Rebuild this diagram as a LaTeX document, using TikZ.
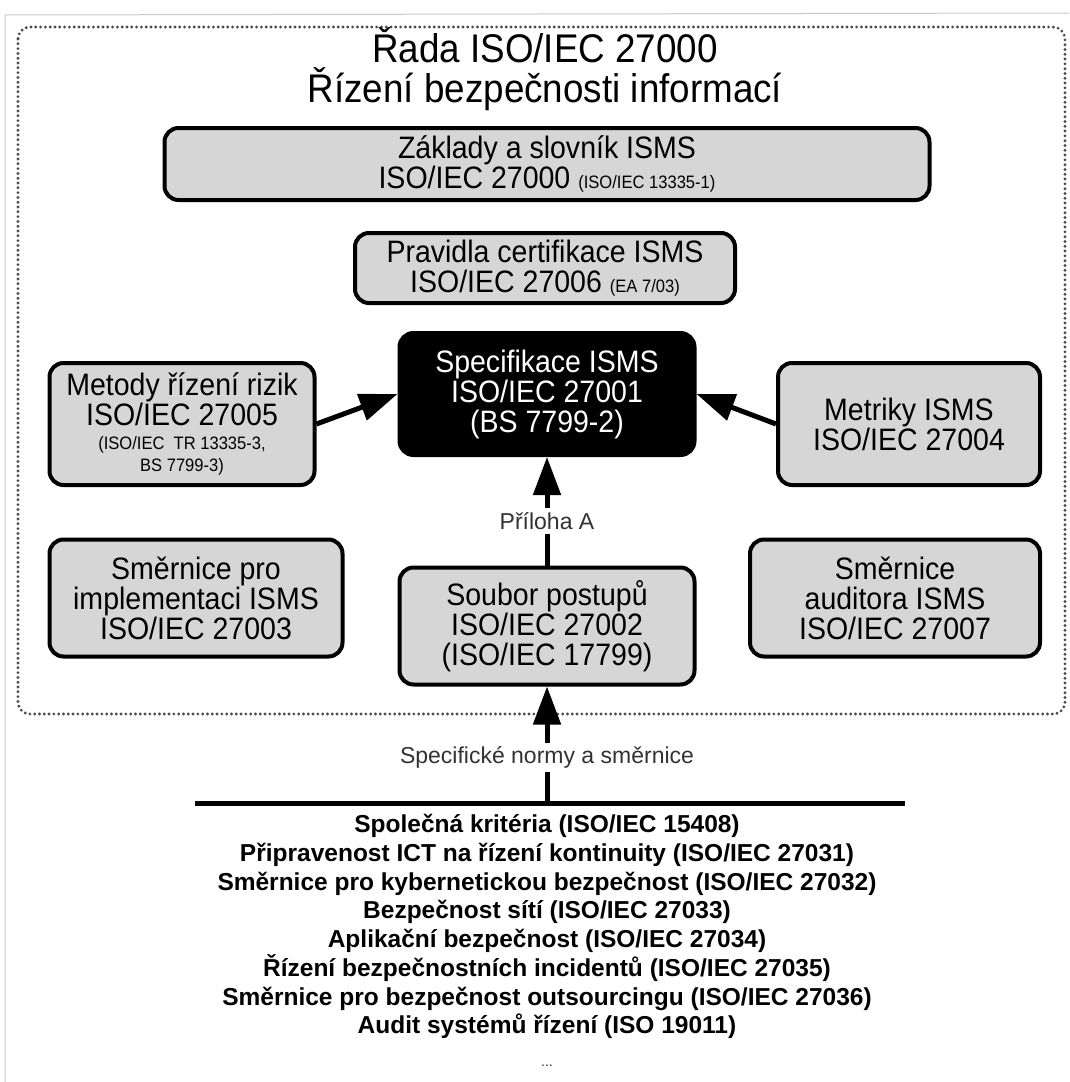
\documentclass[tikz,border=0pt]{standalone}
\usepackage{fontspec}
\setmainfont{Liberation Sans}
\newfontfamily\narrowfont[FakeStretch=0.92]{Liberation Sans}
\definecolor{boxgray}{RGB}{214, 214, 214}
\definecolor{dotgray}{RGB}{75, 75, 75}
\definecolor{labelgray}{RGB}{50, 50, 50}
\definecolor{edgegray}{RGB}{200, 200, 200}
\usetikzlibrary{arrows.meta, positioning}
\newcommand{\smalltag}[1]{{\fontsize{18}{20}\selectfont #1}}

\begin{document}
\begin{tikzpicture}[x=1pt, y=-1pt,
  box/.style={draw, line width=4pt, rounded corners=14pt, fill=boxgray, align=center, inner sep=2pt, font=\narrowfont\fontsize{31}{30}\selectfont},
  core/.style={box, fill=black, text=white},
  note/.style={fill=white, inner sep=4pt, text=labelgray, font=\fontsize{23}{26}\selectfont},
  arrow/.style={-{Triangle[length=38pt, width=27pt]}, line width=5pt},
  frame/.style={dotgray, line width=3.2pt, line cap=round, dash pattern=on 0pt off 4.8pt, rounded corners=12pt}
]
  \useasboundingbox (0,0) rectangle (1069,1082);

  % Page edge and series frame
  \draw[edgegray, line width=1pt] (1069,13) -- (5,15) -- (5,1082);
  \draw[frame] (18,27) rectangle (1065,714);

  % Title
  \node[font=\narrowfont\fontsize{40}{40}\selectfont, align=center] (title) at (545,69) {Řada ISO/IEC 27000\\Řízení bezpečnosti informací};

  % Top boxes
  \node[box, minimum width=765pt, minimum height=72pt] (vocab) at (547,164) {Základy a slovník ISMS\\ISO/IEC 27000 \smalltag{(ISO/IEC 13335-1)}};
  \node[box, minimum width=380pt, minimum height=70pt] (cert) at (545,268) {Pravidla certifikace ISMS\\ISO/IEC 27006 \smalltag{(EA 7/03)}};

  % Middle row
  \node[core, minimum width=295pt, minimum height=122pt] (spec) at (547,394) {Specifikace ISMS\\ISO/IEC 27001\\(BS 7799-2)};
  \node[box, minimum width=265pt, minimum height=122pt] (risk) at (182,424) {Metody řízení rizik\\ISO/IEC 27005\\[-6pt]\smalltag{(ISO/IEC\ \ TR 13335-3,}\\[-8pt]\smalltag{BS 7799-3)}};
  \node[box, minimum width=262pt, minimum height=122pt] (metrics) at (909,424) {Metriky ISMS\\ISO/IEC 27004};

  % Bottom row
  \node[box, minimum width=293pt, minimum height=117pt] (impl) at (196,598) {Směrnice pro\\implementaci ISMS\\ISO/IEC 27003};
  \node[box, minimum width=295pt, minimum height=117pt] (code) at (547,626) {Soubor postupů\\ISO/IEC 27002\\(ISO/IEC 17799)};
  \node[box, minimum width=290pt, minimum height=117pt] (audit) at (895,598) {Směrnice\\auditora ISMS\\ISO/IEC 27007};

  % Arrows into 27001
  \draw[arrow] (risk.east) -- (spec.west);
  \draw[arrow] (metrics.west) -- (spec.east);
  \draw[arrow] (code.north) -- node[note, pos=0.41] (annex) {Příloha A} (spec.south);

  % Specific standards
  \coordinate (barL) at (195,803);
  \coordinate (barR) at (905,803);
  \coordinate (barM) at (547,803);
  \draw[line width=5pt] (barL) -- (barR);
  \draw[arrow] (barM) -- node[note, pos=0.39] (spec-label) {Specifické normy a směrnice} (code.south);

  \node[font=\bfseries\fontsize{24.5}{28.7}\selectfont, align=center, anchor=north] (specific) at (547,811) {%
    Společná kritéria (ISO/IEC 15408)\\
    Připravenost ICT na řízení kontinuity (ISO/IEC 27031)\\
    Směrnice pro kybernetickou bezpečnost (ISO/IEC 27032)\\
    Bezpečnost sítí (ISO/IEC 27033)\\
    Aplikační bezpečnost (ISO/IEC 27034)\\
    Řízení bezpečnostních incidentů (ISO/IEC 27035)\\
    Směrnice pro bezpečnost outsourcingu (ISO/IEC 27036)\\
    Audit systémů řízení (ISO 19011)};
  \node[font=\fontsize{14}{14}\selectfont, text=labelgray] (more) at (547,1066) {...};
\end{tikzpicture}
\end{document}
